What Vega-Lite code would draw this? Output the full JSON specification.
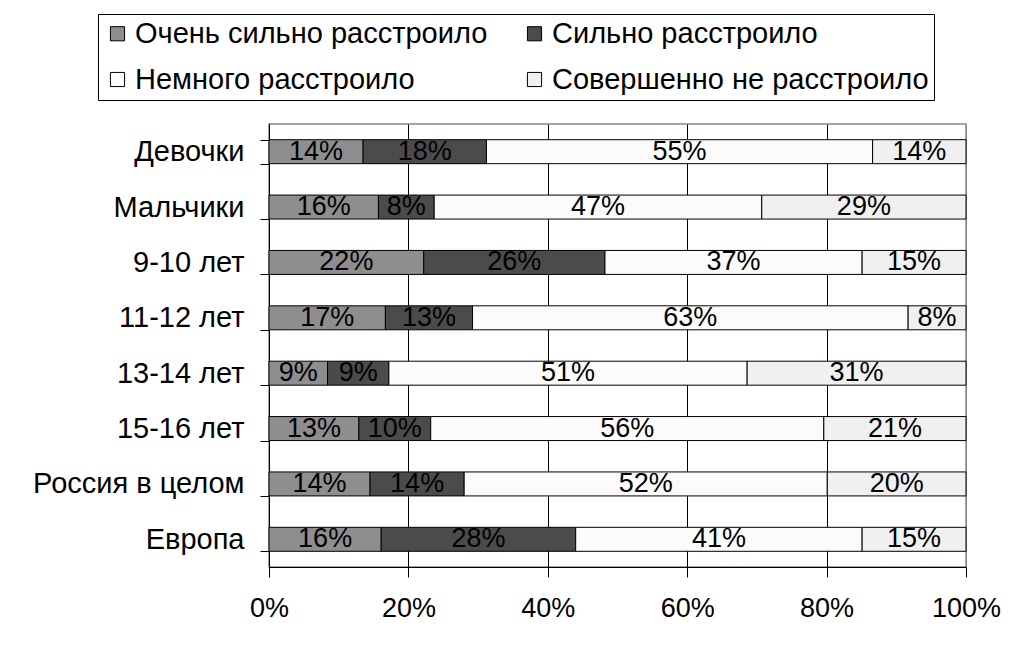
{
  "$schema": "https://vega.github.io/schema/vega-lite/v6.json",
  "width": 697,
  "height": 443,
  "autosize": {"type": "none"},
  "padding": {"left": 269, "top": 124, "right": 45, "bottom": 78},
  "background": "white",
  "config": {"font": "Liberation Sans", "view": {"stroke": "#888888", "strokeWidth": 1.5}},
  "data": {"values": [
    {"group": "Девочки", "response": "Очень сильно расстроило", "order": 1, "value": 13.5, "label": "14%"},
    {"group": "Девочки", "response": "Сильно расстроило", "order": 2, "value": 17.7, "label": "18%"},
    {"group": "Девочки", "response": "Немного расстроило", "order": 3, "value": 55.4, "label": "55%"},
    {"group": "Девочки", "response": "Совершенно не расстроило", "order": 4, "value": 13.4, "label": "14%"},
    {"group": "Мальчики", "response": "Очень сильно расстроило", "order": 1, "value": 15.7, "label": "16%"},
    {"group": "Мальчики", "response": "Сильно расстроило", "order": 2, "value": 8.0, "label": "8%"},
    {"group": "Мальчики", "response": "Немного расстроило", "order": 3, "value": 47.0, "label": "47%"},
    {"group": "Мальчики", "response": "Совершенно не расстроило", "order": 4, "value": 29.3, "label": "29%"},
    {"group": "9-10 лет", "response": "Очень сильно расстроило", "order": 1, "value": 22.2, "label": "22%"},
    {"group": "9-10 лет", "response": "Сильно расстроило", "order": 2, "value": 26.0, "label": "26%"},
    {"group": "9-10 лет", "response": "Немного расстроило", "order": 3, "value": 36.9, "label": "37%"},
    {"group": "9-10 лет", "response": "Совершенно не расстроило", "order": 4, "value": 14.9, "label": "15%"},
    {"group": "11-12 лет", "response": "Очень сильно расстроило", "order": 1, "value": 16.7, "label": "17%"},
    {"group": "11-12 лет", "response": "Сильно расстроило", "order": 2, "value": 12.5, "label": "13%"},
    {"group": "11-12 лет", "response": "Немного расстроило", "order": 3, "value": 62.5, "label": "63%"},
    {"group": "11-12 лет", "response": "Совершенно не расстроило", "order": 4, "value": 8.3, "label": "8%"},
    {"group": "13-14 лет", "response": "Очень сильно расстроило", "order": 1, "value": 8.4, "label": "9%"},
    {"group": "13-14 лет", "response": "Сильно расстроило", "order": 2, "value": 8.8, "label": "9%"},
    {"group": "13-14 лет", "response": "Немного расстроило", "order": 3, "value": 51.4, "label": "51%"},
    {"group": "13-14 лет", "response": "Совершенно не расстроило", "order": 4, "value": 31.4, "label": "31%"},
    {"group": "15-16 лет", "response": "Очень сильно расстроило", "order": 1, "value": 12.9, "label": "13%"},
    {"group": "15-16 лет", "response": "Сильно расстроило", "order": 2, "value": 10.3, "label": "10%"},
    {"group": "15-16 лет", "response": "Немного расстроило", "order": 3, "value": 56.4, "label": "56%"},
    {"group": "15-16 лет", "response": "Совершенно не расстроило", "order": 4, "value": 20.4, "label": "21%"},
    {"group": "Россия в целом", "response": "Очень сильно расстроило", "order": 1, "value": 14.5, "label": "14%"},
    {"group": "Россия в целом", "response": "Сильно расстроило", "order": 2, "value": 13.5, "label": "14%"},
    {"group": "Россия в целом", "response": "Немного расстроило", "order": 3, "value": 52.1, "label": "52%"},
    {"group": "Россия в целом", "response": "Совершенно не расстроило", "order": 4, "value": 19.9, "label": "20%"},
    {"group": "Европа", "response": "Очень сильно расстроило", "order": 1, "value": 16.1, "label": "16%"},
    {"group": "Европа", "response": "Сильно расстроило", "order": 2, "value": 27.9, "label": "28%"},
    {"group": "Европа", "response": "Немного расстроило", "order": 3, "value": 41.1, "label": "41%"},
    {"group": "Европа", "response": "Совершенно не расстроило", "order": 4, "value": 14.9, "label": "15%"}
  ]},
  "encoding": {
    "y": {
      "field": "group",
      "type": "nominal",
      "sort": ["Девочки", "Мальчики", "9-10 лет", "11-12 лет", "13-14 лет", "15-16 лет", "Россия в целом", "Европа"],
      "title": null,
      "scale": {"paddingInner": 0.567, "paddingOuter": 0.2835},
      "axis": {
        "tickBand": "extent",
        "tickSize": 9,
        "tickColor": "black",
        "domainColor": "black",
        "labelFontSize": 29,
        "labelColor": "black",
        "labelPadding": 16,
        "labelLimit": 400,
        "grid": false
      }
    }
  },
  "layer": [
    {
      "mark": {"type": "bar", "stroke": "black", "strokeWidth": 1},
      "encoding": {
        "x": {
          "field": "value",
          "type": "quantitative",
          "stack": "normalize",
          "title": null,
          "axis": {
            "format": ".0%",
            "values": [0, 0.2, 0.4, 0.6, 0.8, 1],
            "tickSize": 10,
            "tickColor": "black",
            "domainColor": "black",
            "labelFontSize": 27,
            "labelColor": "black",
            "labelPadding": 18,
            "labelFlush": false,
            "grid": true,
            "gridColor": {"condition": {"test": "datum.value >= 1", "value": "#888888"}, "value": "black"},
            "gridOpacity": 1
          }
        },
        "color": {
          "field": "response",
          "type": "nominal",
          "scale": {
            "domain": ["Очень сильно расстроило", "Сильно расстроило", "Немного расстроило", "Совершенно не расстроило"],
            "range": ["#8e8e8e", "#4b4b4b", "#fbfbfb", "#f0f0f0"]
          },
          "legend": {
            "orient": "none",
            "legendX": -171,
            "legendY": -110,
            "direction": "horizontal",
            "columns": 2,
            "title": null,
            "labelFontSize": 29,
            "labelColor": "black",
            "labelLimit": 500,
            "symbolType": "square",
            "symbolSize": 200,
            "symbolStrokeColor": "black",
            "symbolStrokeWidth": 1,
            "labelOffset": 3,
            "columnPadding": 32,
            "rowPadding": 16,
            "padding": 5,
            "strokeColor": "black",
            "fillColor": "white"
          }
        },
        "order": {"field": "order"}
      }
    },
    {
      "mark": {"type": "text", "fontSize": 27, "color": "black", "baseline": "middle"},
      "encoding": {
        "x": {"field": "value", "type": "quantitative", "stack": "normalize", "bandPosition": 0.5},
        "text": {"field": "label"},
        "detail": {"field": "response"},
        "order": {"field": "order"}
      }
    }
  ]
}
